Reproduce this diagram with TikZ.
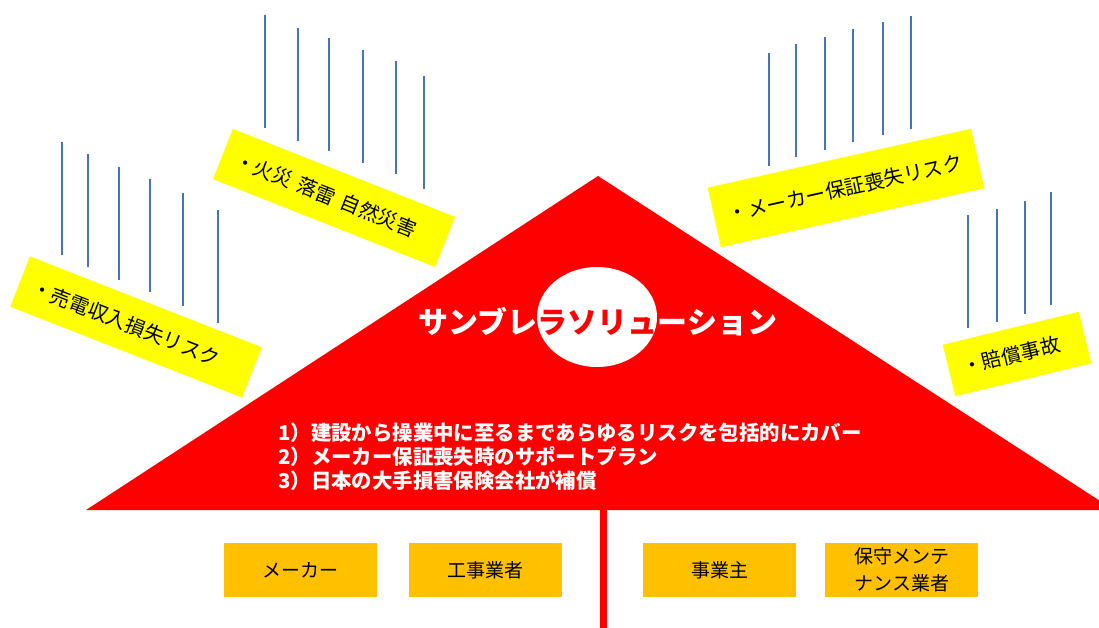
\documentclass[tikz,border=0pt]{standalone}
\usepackage{fontspec}
\setmainfont{Noto Sans CJK JP}
\usepackage{xcolor}
\definecolor{colorUmbrella}{HTML}{FF0000}
\definecolor{colorRisk}{HTML}{FFFF00}
\definecolor{colorParty}{HTML}{FFC000}
\definecolor{colorRain}{HTML}{4472C4}
\usetikzlibrary{positioning}
\tikzset{
  riskBox/.style={fill=colorRisk, text=black, text width=#1, minimum height=54pt, inner xsep=14pt, inner ysep=0pt, align=left, font=\fontsize{20}{24}\selectfont},
  partyBox/.style={fill=colorParty, text=black, minimum width=153pt, minimum height=54pt, inner sep=0pt, align=center, font=\fontsize{19}{27}\selectfont},
  titleText/.style={font=\fontsize{30}{34}\bfseries\selectfont, inner sep=0pt},
  rain/.style={colorRain, line width=1.3pt},
}

\begin{document}
\begin{tikzpicture}[x=1pt, y=-1pt]
\useasboundingbox (0,0) rectangle (1099,628);
\clip (0,0) rectangle (1099,628);
\foreach \x/\t in {62/142, 88/154, 119/167, 150/179, 183/193, 218/210, 265/15, 298/28, 329/38, 363/50, 396/61, 424/76, 769/53, 796/44, 825/37, 853/29, 883/22, 911/16, 968/215, 997/209, 1025/201, 1051/192}
  \draw[rain] (\x,\t) -- ++(0,113);
\coordinate (apex) at (598,176);
\coordinate (edgeL) at (86,510);
\coordinate (edgeR) at (1114,510);
\fill[colorUmbrella] (apex) -- (edgeL) -- (edgeR) -- cycle;
\coordinate (handleTop) at (603,510);
\coordinate (handleEnd) at (603,628);
\draw[colorUmbrella, line width=7pt] (handleTop) -- (handleEnd);
\fill[white] (597,317) ellipse [x radius=60, y radius=50];
\node[titleText, text=white] (title) at (598,322) {サンブレラソリューション};
\begin{scope}
\clip (597,317) ellipse [x radius=60, y radius=50];
\node[titleText, text=colorUmbrella] (titleIn) at (title.center) {サンブレラソリューション};
\end{scope}
\node[anchor=west, inner sep=0pt, text=white, align=left, font=\fontsize{20.4}{24}\bfseries\selectfont] (points) at (278,457) {1）建設から操業中に至るまであらゆるリスクを包括的にカバー\\2）メーカー保証喪失時のサポートプラン\\3）日本の大手損害保険会社が補償};
\node[riskBox=221pt, rotate=-21.4] (riskSales) at (136,327) {\mbox{・売電収入損失リスク}};
\node[riskBox=211pt, rotate=-21.6] (riskFire) at (334,198) {\mbox{・火災 落雷 自然災害}};
\node[riskBox=242pt, rotate=12.6, minimum height=61pt] (riskMaker) at (846,188) {\mbox{・メーカー保証喪失リスク}};
\node[riskBox=112pt, rotate=13.6, minimum height=53pt] (riskClaim) at (1017,354) {\mbox{・賠償事故}};
\node[partyBox] (maker) at (300,570) {メーカー};
\node[partyBox, right=32pt of maker] (builder) {工事業者};
\node[partyBox] (owner) at (719.5,570) {事業主};
\node[partyBox, right=29pt of owner] (keeper) {保守メンテ\\ナンス業者};
\end{tikzpicture}
\end{document}
